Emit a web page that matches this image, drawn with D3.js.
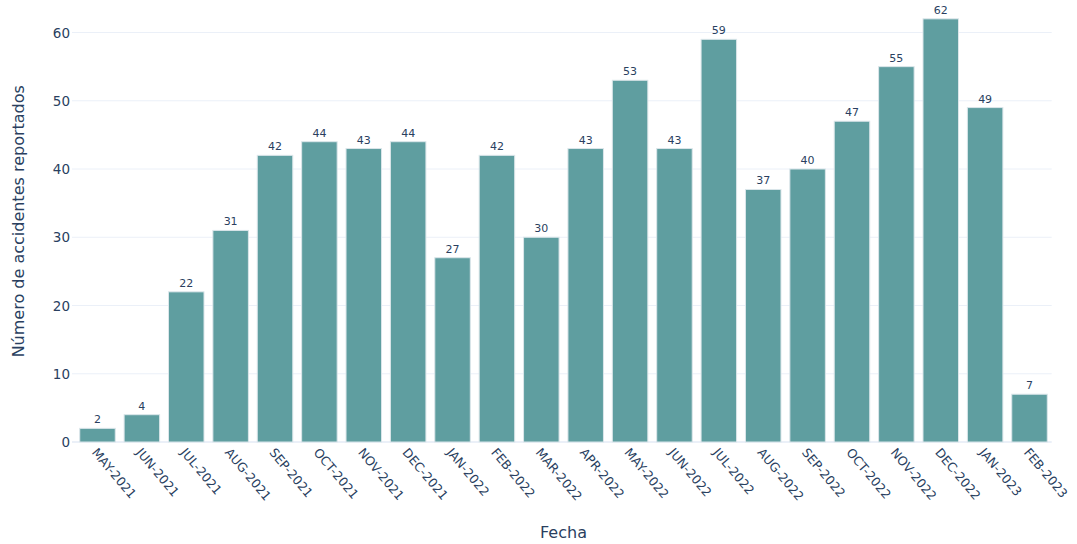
<!DOCTYPE html>
<html>
<head>
<meta charset="utf-8">
<script src="https://cdn.jsdelivr.net/npm/d3@7"></script>
<style>
html,body{margin:0;padding:0;background:#fff;}
svg{display:block;font-family:"DejaVu Sans",Verdana,sans-serif;}
</style>
</head>
<body>
<svg id="chart" width="1077" height="544"></svg>
<script>
const categories = ["MAY-2021","JUN-2021","JUL-2021","AUG-2021","SEP-2021","OCT-2021","NOV-2021","DEC-2021","JAN-2022","FEB-2022","MAR-2022","APR-2022","MAY-2022","JUN-2022","JUL-2022","AUG-2022","SEP-2022","OCT-2022","NOV-2022","DEC-2022","JAN-2023","FEB-2023"];
const values = [2,4,22,31,42,44,43,44,27,42,30,43,53,43,59,37,40,47,55,62,49,7];
const yTicks = [0,10,20,30,40,50,60];
const xTitle = "Fecha";
const yTitle = "Número de accidentes reportados";

const svg = d3.select("#chart");
const plot = {left:75.3, right:1051.7, top:8, bottom:442};

const x = d3.scaleBand().domain(categories).range([plot.left, plot.right]).paddingInner(0.2).paddingOuter(0.1);
const y = d3.scaleLinear().domain([0,60]).range([plot.bottom, 32.5]);

const textColor = "#2a3f5f";
const font = "DejaVu Sans";

// gridlines
svg.append("g").selectAll("line").data(yTicks.filter(d=>d>0)).join("line")
  .attr("x1", 72).attr("x2", plot.right)
  .attr("y1", d=>y(d)).attr("y2", d=>y(d))
  .attr("stroke", "#EBF0F8").attr("stroke-width", 1);

// zero line
svg.append("line").attr("x1",72).attr("x2",plot.right)
  .attr("y1",y(0)).attr("y2",y(0)).attr("stroke","#EBF0F8").attr("stroke-width",2);

// y axis tick labels
const yAxis = d3.axisLeft(y).tickValues(yTicks).tickSize(0).tickPadding(0);
const yg = svg.append("g").attr("transform","translate(70,0)").call(yAxis);
yg.select(".domain").remove();
yg.selectAll("text").attr("font-size","13.5px").attr("fill",textColor).attr("font-family",font).attr("dy","0.35em");

// bars
svg.append("g").selectAll("rect").data(values).join("rect")
  .attr("x",(d,i)=>x(categories[i]))
  .attr("width",x.bandwidth())
  .attr("y",d=>y(d))
  .attr("height",d=>y(0)-y(d))
  .attr("fill","#5F9EA0")
  .attr("stroke","#dbe6ea").attr("stroke-width",1);

// value labels
svg.append("g").selectAll("text").data(values).join("text")
  .attr("x",(d,i)=>x(categories[i])+x.bandwidth()/2)
  .attr("y",d=>y(d)-5)
  .attr("text-anchor","middle")
  .attr("font-size","11px").attr("fill",textColor)
  .text(d=>d);

// x tick labels
const xAxis = d3.axisBottom(x).tickSize(0).tickPadding(0);
const xg = svg.append("g").attr("transform",`translate(0,${plot.bottom})`).call(xAxis);
xg.select(".domain").remove();
xg.selectAll("text")
  .attr("font-size","12.5px").attr("fill",textColor).attr("font-family",font)
  .attr("text-anchor","start")
  .attr("transform","translate(-3,8) rotate(50)")
  .attr("x",0).attr("y",0).attr("dy","0.35em");

// axis titles
svg.append("text").attr("x",(plot.left+plot.right)/2).attr("y",538)
  .attr("text-anchor","middle").attr("font-size","16px").attr("fill",textColor).text(xTitle);
svg.append("text").attr("transform",`translate(24,${(plot.bottom+32.5)/2 - 16}) rotate(-90)`)
  .attr("text-anchor","middle").attr("font-size","16px").attr("fill",textColor).text(yTitle);
</script>
</body>
</html>
